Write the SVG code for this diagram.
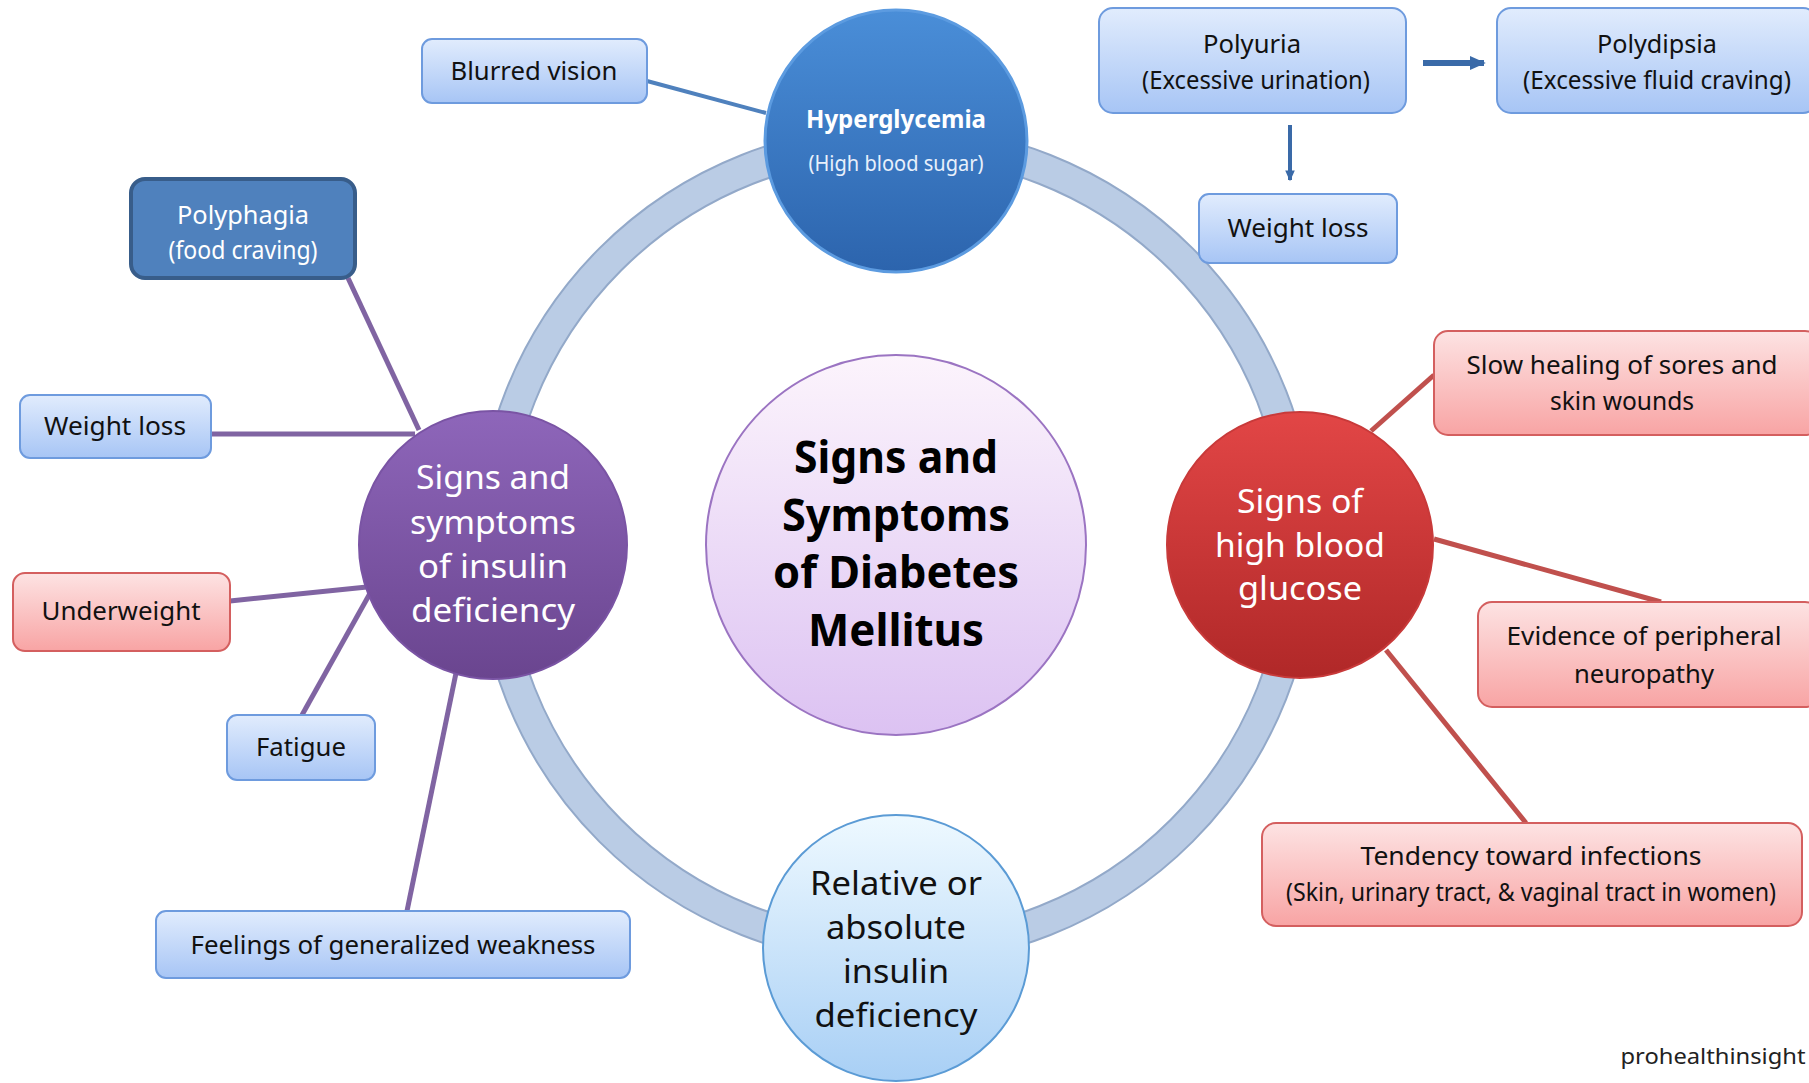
<svg xmlns="http://www.w3.org/2000/svg" width="1809" height="1083" viewBox="0 0 1809 1083">
<defs>
<linearGradient id="gBlueBox" x1="0" y1="0" x2="0" y2="1"><stop offset="0" stop-color="#e1ecfd"/><stop offset="1" stop-color="#a7c5f5"/></linearGradient>
<linearGradient id="gRedBox" x1="0" y1="0" x2="0" y2="1"><stop offset="0" stop-color="#fde3e3"/><stop offset="1" stop-color="#f8a4a4"/></linearGradient>
<linearGradient id="gHyper" x1="0" y1="0" x2="0" y2="1"><stop offset="0" stop-color="#4a8ed8"/><stop offset="1" stop-color="#2c64ad"/></linearGradient>
<linearGradient id="gRed" x1="0" y1="0" x2="0" y2="1"><stop offset="0" stop-color="#e24646"/><stop offset="1" stop-color="#b02828"/></linearGradient>
<linearGradient id="gPurple" x1="0" y1="0" x2="0" y2="1"><stop offset="0" stop-color="#8e66ba"/><stop offset="1" stop-color="#6a458f"/></linearGradient>
<linearGradient id="gLight" x1="0" y1="0" x2="0" y2="1"><stop offset="0" stop-color="#eef9ff"/><stop offset="1" stop-color="#a8cff5"/></linearGradient>
<linearGradient id="gCenter" x1="0" y1="0" x2="0" y2="1"><stop offset="0" stop-color="#fcf4fc"/><stop offset="1" stop-color="#dcc2f2"/></linearGradient>
<marker id="arr" viewBox="0 0 10 10" refX="8" refY="5" markerWidth="3" markerHeight="3" orient="auto"><path d="M0,1 L9,5 L0,9 z" fill="#3a6aa8"/></marker>
</defs>
<style>
text{font-family:"Noto Sans","Open Sans","DejaVu Sans",sans-serif;text-anchor:middle}
.bb{fill:url(#gBlueBox);stroke:#6e9bde;stroke-width:2}
.rb{fill:url(#gRedBox);stroke:#d45f5f;stroke-width:2}
.t{font-size:25px;fill:#111}
.c{font-size:33px}
.lb{stroke:#4f81bd;stroke-width:4;fill:none}
.lp{stroke:#8064a2;stroke-width:5;fill:none}
.lr{stroke:#c0504d;stroke-width:5;fill:none}
.la{stroke:#3a6aa8;stroke-width:6;fill:none}
</style>
<rect width="1809" height="1083" fill="#ffffff"/>
<g id="ring">
<circle cx="896" cy="545" r="404" fill="none" stroke="#93a9c9" stroke-width="33"/>
<circle cx="896" cy="545" r="404" fill="none" stroke="#bacce5" stroke-width="29"/>
</g>
<g id="connectors">
<line class="lb" x1="647" y1="81" x2="766" y2="113"/>
<line class="lp" x1="348" y1="278" x2="419" y2="430"/>
<line class="lp" x1="211" y1="434" x2="415" y2="434"/>
<line class="lp" x1="230" y1="601" x2="367" y2="587"/>
<line class="lp" x1="302" y1="715" x2="373" y2="588"/>
<line class="lp" x1="407" y1="911" x2="456" y2="673"/>
<line class="la" x1="1423" y1="63" x2="1484" y2="63" marker-end="url(#arr)"/>
<line class="la" x1="1290" y1="125" x2="1290" y2="180" marker-end="url(#arr)" style="stroke-width:4"/>
<line class="lr" x1="1371" y1="431" x2="1434" y2="375"/>
<line class="lr" x1="1434" y1="539" x2="1661" y2="602"/>
<line class="lr" x1="1386" y1="650" x2="1526" y2="823"/>
</g>
<g id="center">
<circle cx="896" cy="545" r="190" fill="url(#gCenter)" stroke="#9b74c2" stroke-width="2"/>
<text x="896" y="473" font-size="44" font-weight="bold" fill="#000" textLength="204" lengthAdjust="spacingAndGlyphs">Signs and</text>
<text x="896" y="531" font-size="44" font-weight="bold" fill="#000" textLength="228" lengthAdjust="spacingAndGlyphs">Symptoms</text>
<text x="896" y="588" font-size="44" font-weight="bold" fill="#000" textLength="246" lengthAdjust="spacingAndGlyphs">of Diabetes</text>
<text x="896" y="646" font-size="44" font-weight="bold" fill="#000" textLength="176" lengthAdjust="spacingAndGlyphs">Mellitus</text>
</g>
<g id="hyperglycemia">
<circle cx="896" cy="141" r="131" fill="url(#gHyper)" stroke="#5c9be0" stroke-width="3"/>
<text x="896" y="128" font-size="25" font-weight="bold" fill="#fff" textLength="180" lengthAdjust="spacingAndGlyphs">Hyperglycemia</text>
<text x="896" y="171" font-size="22" fill="#e8f0fb" textLength="175" lengthAdjust="spacingAndGlyphs">(High blood sugar)</text>
</g>
<g id="high-glucose">
<circle cx="1300" cy="545" r="133" fill="url(#gRed)" stroke="#c83a3a" stroke-width="2"/>
<text class="c" x="1300" y="513" fill="#fff" textLength="126" lengthAdjust="spacingAndGlyphs">Signs of</text>
<text class="c" x="1300" y="557" fill="#fff" textLength="170" lengthAdjust="spacingAndGlyphs">high blood</text>
<text class="c" x="1300" y="600" fill="#fff" textLength="124" lengthAdjust="spacingAndGlyphs">glucose</text>
</g>
<g id="insulin-symptoms">
<circle cx="493" cy="545" r="134" fill="url(#gPurple)" stroke="#7a54a4" stroke-width="2"/>
<text class="c" x="493" y="489" fill="#fff" textLength="154" lengthAdjust="spacingAndGlyphs">Signs and</text>
<text class="c" x="493" y="534" fill="#fff" textLength="166" lengthAdjust="spacingAndGlyphs">symptoms</text>
<text class="c" x="493" y="578" fill="#fff" textLength="150" lengthAdjust="spacingAndGlyphs">of insulin</text>
<text class="c" x="493" y="622" fill="#fff" textLength="164" lengthAdjust="spacingAndGlyphs">deficiency</text>
</g>
<g id="insulin-deficiency">
<circle cx="896" cy="948" r="133" fill="url(#gLight)" stroke="#5b9bd5" stroke-width="2"/>
<text class="c" x="896" y="895" fill="#111" textLength="172" lengthAdjust="spacingAndGlyphs">Relative or</text>
<text class="c" x="896" y="939" fill="#111" textLength="140" lengthAdjust="spacingAndGlyphs">absolute</text>
<text class="c" x="896" y="983" fill="#111" textLength="106" lengthAdjust="spacingAndGlyphs">insulin</text>
<text class="c" x="896" y="1027" fill="#111" textLength="163" lengthAdjust="spacingAndGlyphs">deficiency</text>
</g>
<g id="blurred-vision">
<rect class="bb" x="422" y="39" width="225" height="64" rx="10"/>
<text class="t" x="534" y="80" textLength="167" lengthAdjust="spacingAndGlyphs">Blurred vision</text>
</g>
<g id="polyphagia">
<rect x="131" y="179" width="224" height="99" rx="14" fill="#4f81bd" stroke="#385d8a" stroke-width="4"/>
<text x="243" y="224" font-size="25" fill="#fff" textLength="132" lengthAdjust="spacingAndGlyphs">Polyphagia</text>
<text x="243" y="259" font-size="25" fill="#fff" textLength="149" lengthAdjust="spacingAndGlyphs">(food craving)</text>
</g>
<g id="weight-loss-left">
<rect class="bb" x="20" y="395" width="191" height="63" rx="10"/>
<text class="t" x="115" y="435" textLength="142" lengthAdjust="spacingAndGlyphs">Weight loss</text>
</g>
<g id="underweight">
<rect class="rb" x="13" y="573" width="217" height="78" rx="12"/>
<text class="t" x="121" y="620" textLength="159" lengthAdjust="spacingAndGlyphs">Underweight</text>
</g>
<g id="fatigue">
<rect class="bb" x="227" y="715" width="148" height="65" rx="10"/>
<text class="t" x="301" y="756" textLength="90" lengthAdjust="spacingAndGlyphs">Fatigue</text>
</g>
<g id="weakness">
<rect class="bb" x="156" y="911" width="474" height="67" rx="10"/>
<text class="t" x="393" y="954" textLength="405" lengthAdjust="spacingAndGlyphs">Feelings of generalized weakness</text>
</g>
<g id="polyuria">
<rect class="bb" x="1099" y="8" width="307" height="105" rx="14"/>
<text class="t" x="1252" y="53" textLength="98" lengthAdjust="spacingAndGlyphs">Polyuria</text>
<text class="t" x="1256" y="89" textLength="228" lengthAdjust="spacingAndGlyphs">(Excessive urination)</text>
</g>
<g id="polydipsia">
<rect class="bb" x="1497" y="8" width="320" height="105" rx="14"/>
<text class="t" x="1657" y="53" textLength="120" lengthAdjust="spacingAndGlyphs">Polydipsia</text>
<text class="t" x="1657" y="89" textLength="268" lengthAdjust="spacingAndGlyphs">(Excessive fluid craving)</text>
</g>
<g id="weight-loss-right">
<rect class="bb" x="1199" y="194" width="198" height="69" rx="10"/>
<text class="t" x="1298" y="237" textLength="141" lengthAdjust="spacingAndGlyphs">Weight loss</text>
</g>
<g id="slow-healing">
<rect class="rb" x="1434" y="331" width="385" height="104" rx="14"/>
<text class="t" x="1622" y="374" textLength="311" lengthAdjust="spacingAndGlyphs">Slow healing of sores and</text>
<text class="t" x="1622" y="410" textLength="144" lengthAdjust="spacingAndGlyphs">skin wounds</text>
</g>
<g id="neuropathy">
<rect class="rb" x="1478" y="602" width="341" height="105" rx="14"/>
<text class="t" x="1644" y="645" textLength="275" lengthAdjust="spacingAndGlyphs">Evidence of peripheral</text>
<text class="t" x="1644" y="683" textLength="140" lengthAdjust="spacingAndGlyphs">neuropathy</text>
</g>
<g id="infections">
<rect class="rb" x="1262" y="823" width="540" height="103" rx="14"/>
<text class="t" x="1531" y="865" textLength="341" lengthAdjust="spacingAndGlyphs">Tendency toward infections</text>
<text class="t" x="1531" y="901" textLength="490" lengthAdjust="spacingAndGlyphs">(Skin, urinary tract, &amp; vaginal tract in women)</text>
</g>
<text x="1713" y="1064" font-size="22" fill="#222" textLength="185" lengthAdjust="spacingAndGlyphs">prohealthinsight</text>
</svg>
